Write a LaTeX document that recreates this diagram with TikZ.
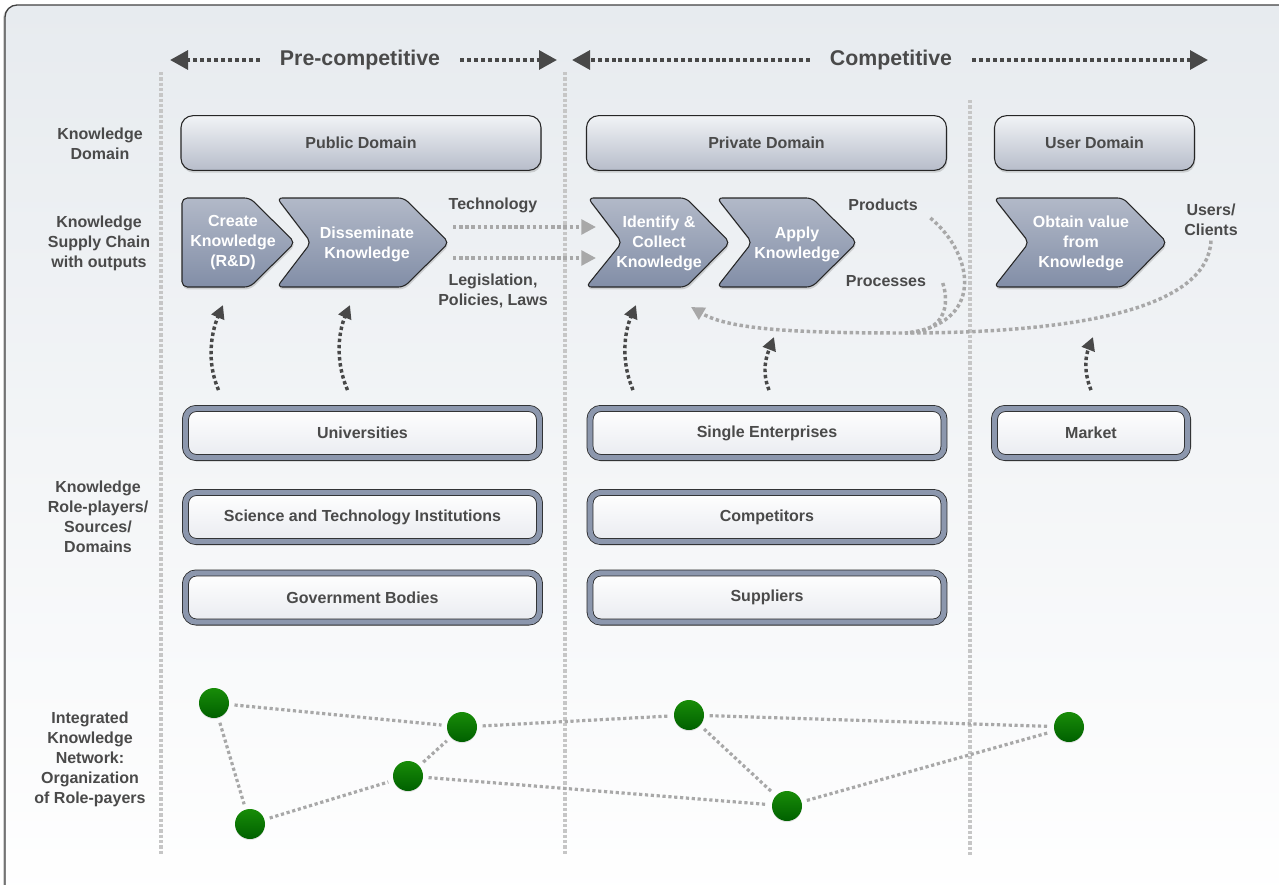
\documentclass[tikz,border=0pt]{standalone}
\usepackage{fontspec}
\setmainfont{Liberation Sans}
\usetikzlibrary{arrows.meta,shadows,calc}

\definecolor{txtgrey}{RGB}{74,74,74}
\definecolor{darkdot}{RGB}{72,72,72}
\definecolor{lightdot}{RGB}{168,168,168}
\definecolor{sepgrey}{RGB}{198,198,198}
\definecolor{bgtop}{RGB}{231,235,239}
\definecolor{domtop}{RGB}{241,243,246}
\definecolor{dombot}{RGB}{183,189,202}
\definecolor{chevtop}{RGB}{178,185,200}
\definecolor{chevbot}{RGB}{130,142,167}
\definecolor{ringblue}{RGB}{140,151,173}
\definecolor{rolebot}{RGB}{233,235,240}
\definecolor{greentop}{RGB}{24,140,8}
\definecolor{greenbot}{RGB}{0,96,0}

\begin{document}
\begin{tikzpicture}[x=0.75pt,y=-0.75pt,
    lbl/.style={font=\fontsize{12}{15}\selectfont\bfseries, text=txtgrey, align=center},
    phase/.style={font=\fontsize{16}{19}\selectfont\bfseries, text=txtgrey, inner xsep=15pt},
    toparrow/.style={darkdot, line width=3pt, dash pattern=on 3pt off 2.2pt, -{Triangle[length=13.5pt,width=14pt]}},
    uparrow/.style={darkdot, line width=2.6pt, dash pattern=on 2.6pt off 2pt, -{Triangle[length=10pt,width=10pt]}},
    outarrow/.style={lightdot, line width=2.6pt, dash pattern=on 2.6pt off 2pt, -{Triangle[length=11pt,width=11pt]}},
    fback/.style={lightdot, line width=2.6pt, dash pattern=on 2.6pt off 2pt},
    separator/.style={sepgrey, line width=2.4pt, dash pattern=on 2.4pt off 1.6pt},
    domainbox/.style={lbl, draw=black!85, line width=0.8pt, rounded corners=9pt, top color=domtop, bottom color=dombot,
      minimum height=41pt, drop shadow={opacity=0.3, shadow xshift=0.6pt, shadow yshift=-1.8pt}},
    chevron/.style={draw=black!85, line width=0.8pt, rounded corners=4pt, top color=chevtop, bottom color=chevbot,
      drop shadow={opacity=0.3, shadow xshift=0.6pt, shadow yshift=-1.8pt}},
    chevtext/.style={lbl, text=white},
    rolebox/.style={lbl, draw=black!85, line width=0.6pt, double=ringblue, double distance=4pt, rounded corners=8pt,
      top color=white, bottom color=rolebot, minimum height=36.8pt, drop shadow={opacity=0.3, shadow xshift=0.6pt, shadow yshift=-1.8pt}},
    netnode/.style={circle, minimum size=22.5pt, inner sep=0pt, top color=greentop, bottom color=greenbot,
      drop shadow={opacity=0.2, shadow xshift=0pt, shadow yshift=-0.8pt}},
    netlink/.style={lightdot, line width=2.4pt, dash pattern=on 2.4pt off 2pt, shorten <=4pt, shorten >=4pt}]

    \useasboundingbox (0,0) rectangle (1279,885);
    % frame
    \draw[black!75, line width=1pt, rounded corners=9pt, top color=bgtop, bottom color=white,
      drop shadow={opacity=0.35, shadow xshift=-1.5pt, shadow yshift=-1pt}] (5,5) rectangle (1300,905);

    % phases
    \node[phase] (precomp) at (360,60) {Pre-competitive};
    \node[phase] (comp) at (891,60) {Competitive};
    \coordinate (pcl) at (170,60);
    \coordinate (pcr) at (557,60);
    \coordinate (cl) at (572,60);
    \coordinate (cr) at (1208,60);
    \draw[toparrow] (precomp.west) -- (pcl);
    \draw[toparrow] (precomp.east) -- (pcr);
    \draw[toparrow] (comp.west) -- (cl);
    \draw[toparrow] (comp.east) -- (cr);

    \draw[separator] (161,72) -- (161,855);
    \draw[separator] (565,72) -- (565,855);
    \draw[separator] (970,100) -- (970,855);

    % row labels
    \node[lbl] (domlbl) at (100,144) {Knowledge\\Domain};
    \node[lbl] (chainlbl) at (99,243) {Knowledge\\Supply Chain\\with outputs};
    \node[lbl] (rolelbl) at (98,517) {Knowledge\\Role-players/\\Sources/\\Domains};
    \node[lbl] (netlbl) at (90,759) {Integrated\\Knowledge\\Network:\\Organization\\of Role-payers};

    % domains
    \node[domainbox, minimum width=270pt] (public) at (361,143) {Public Domain};
    \node[domainbox, minimum width=270pt] (private) at (766.5,143) {Private Domain};
    \node[domainbox, minimum width=150pt] (user) at (1094.5,143) {User Domain};

    % supply chain
    \draw[chevron] (182,198) -- (250,198) -- (295,242.5) -- (250,287) -- (182,287) -- cycle;
    \draw[chevron] (277,198) -- (404,198) -- (449,242.5) -- (404,287) -- (277,287) -- (311,242.5) -- cycle;
    \draw[chevron] (588,198) -- (686,198) -- (730,242.5) -- (686,287) -- (586,287) -- (622,242.5) -- cycle;
    \draw[chevron] (717,198) -- (812,198) -- (857,242.5) -- (812,287) -- (717,287) -- (752,242.5) -- cycle;
    \draw[chevron] (994,198) -- (1123,198) -- (1167,242.5) -- (1123,287) -- (994,287) -- (1029,242.5) -- cycle;
    \node[chevtext] (create) at (233,243) {Create\\Knowledge\\(R\&D)};
    \node[chevtext] (dissem) at (367,244) {Disseminate\\Knowledge};
    \node[chevtext] (ident) at (659,243) {Identify \&\\Collect\\Knowledge};
    \node[chevtext] (apply) at (797,244) {Apply\\Knowledge};
    \node[chevtext] (obtain) at (1081,243) {Obtain value\\from\\Knowledge};

    % outputs
    \node[lbl] (tech) at (493,205) {Technology};
    \node[lbl] (legis) at (493,291) {Legislation,\\Policies, Laws};
    \node[lbl] (products) at (883,205) {Products};
    \node[lbl] (processes) at (886,281) {Processes};
    \node[lbl] (users) at (1211,220) {Users/\\Clients};

    \coordinate (ta) at (453,227);
    \coordinate (tb) at (596,227);
    \coordinate (la) at (453,258);
    \coordinate (lb) at (596,258);
    \draw[outarrow] (ta) -- (tb);
    \draw[outarrow] (la) -- (lb);

    % feedback
    \coordinate (fbj) at (905,333);
    \coordinate (fbend) at (691,307);
    \coordinate (pr) at ($(products.east)+(8,13)$);
    \coordinate (pc) at ($(processes.east)+(12,2)$);
    \draw[fback, -{Triangle[length=10pt,width=10pt]}] (users.south) .. controls (1208,305) and (1090,333) .. (fbj)
      .. controls (800,333) and (730,330) .. (fbend);
    \draw[fback] (pr) .. controls (975,255) and (985,325) .. (fbj);
    \draw[fback] (pc) .. controls (950,305) and (945,333) .. (fbj);

    % role-players
    \node[rolebox, minimum width=265.5pt] (univ) at (362.5,433) {Universities};
    \node[rolebox, minimum width=265.5pt] (science) at (362.5,517) {Science and Technology Institutions};
    \node[rolebox, minimum width=265.5pt] (govern) at (362.5,597.5) {Government Bodies};
    \node[rolebox, minimum width=265.5pt] (single) at (767,433) {Single Enterprises};
    \node[rolebox, minimum width=265.5pt] (compet) at (767,517) {Competitors};
    \node[rolebox, minimum width=265.5pt] (suppl) at (767,597.5) {Suppliers};
    \node[rolebox, minimum width=144.8pt] (market) at (1091,433) {Market};

    \coordinate (u1) at ($(univ.north)+(-144,-18)$);
    \coordinate (u2) at ($(univ.north)+(-15,-18)$);
    \coordinate (s1) at ($(single.north)+(-134,-18)$);
    \coordinate (s2) at ($(single.north)+(2,-18)$);
    \coordinate (m1) at ($(market.north)+(0,-18)$);
    \coordinate (c1) at ($(create)+(-10,62)$);
    \coordinate (d1) at ($(dissem)+(-17,61)$);
    \coordinate (i1) at ($(ident)+(-23,62)$);
    \coordinate (a1) at (774,337);
    \coordinate (a2) at (1093,337);
    \draw[uparrow] (u1) .. controls +(-12,-28) and +(-12,28) .. (c1);
    \draw[uparrow] (u2) .. controls +(-12,-28) and +(-12,28) .. (d1);
    \draw[uparrow] (s1) .. controls +(-12,-28) and +(-12,28) .. (i1);
    \draw[uparrow] (s2) .. controls +(-8,-20) and +(-7,18) .. (a1);
    \draw[uparrow] (m1) .. controls +(-8,-20) and +(-7,18) .. (a2);

    % network
    \node[netnode] (n1) at (214,703) {};
    \node[netnode] (n2) at (462,727) {};
    \node[netnode] (n3) at (408,776) {};
    \node[netnode] (n4) at (250,824) {};
    \node[netnode] (n5) at (689,715) {};
    \node[netnode] (n6) at (787,806) {};
    \node[netnode] (n7) at (1069,727) {};
    \draw[netlink] (n1) -- (n2);
    \draw[netlink] (n1) -- (n4);
    \draw[netlink] (n4) -- (n3);
    \draw[netlink] (n3) -- (n2);
    \draw[netlink] (n2) -- (n5);
    \draw[netlink] (n3) -- (n6);
    \draw[netlink] (n5) -- (n7);
    \draw[netlink] (n5) -- (n6);
    \draw[netlink] (n6) -- (n7);
\end{tikzpicture}
\end{document}
